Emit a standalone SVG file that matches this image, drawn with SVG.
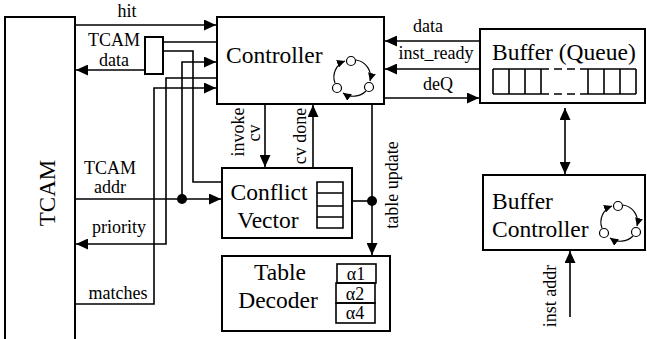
<svg xmlns="http://www.w3.org/2000/svg" width="647" height="339" viewBox="0 0 647 339" font-family="Liberation Serif, Times New Roman, serif">
<style>
text{font-family:'Liberation Serif','Times New Roman',serif;fill:#000}
.box{fill:#fff;stroke:#000;stroke-width:2}
.cell{fill:none;stroke:#000;stroke-width:1.6}
.w{fill:none;stroke:#000;stroke-width:1.6}
.a{marker-end:url(#ah)}
.big{font-size:23.5px}
.sm{font-size:18px}
.mid{text-anchor:middle}
.st{fill:#fff;stroke:#000;stroke-width:1.2}
.arc{fill:none;stroke:#000;stroke-width:1.2;marker-end:url(#sah)}
</style>
<defs>
<marker id="ah" markerUnits="userSpaceOnUse" markerWidth="13" markerHeight="11" refX="12" refY="5.5" orient="auto"><path d="M0,0 L12,5.5 L0,11 z" fill="#000"/></marker>
<marker id="sah" markerUnits="userSpaceOnUse" markerWidth="9" markerHeight="8" refX="8" refY="4" orient="auto"><path d="M0,0 L8,4 L0,8 z" fill="#000"/></marker>
<g id="fsm">
<path class="arc" d="M335,83 A17,17 0 0 1 345,61"/>
<path class="arc" d="M356,60 A17,17 0 0 1 370,81"/>
<path class="arc" d="M366,91 A18,18 0 0 1 343,93"/>
<circle class="st" cx="351" cy="61" r="4.5"/>
<circle class="st" cx="337" cy="88" r="4.5"/>
<circle class="st" cx="369" cy="87" r="4.5"/>
</g>
</defs>
<rect width="647" height="339" fill="#fff"/>

<g id="tcam">
<path class="box" d="M5,345 V17 H75 V345"/>
<text class="big mid" style="font-size:23px" transform="translate(55,193) rotate(-90)">TCAM</text>
</g>

<g id="mux">
<rect class="box" x="145" y="37" width="18" height="37"/>
</g>

<g id="controller">
<rect class="box" x="217" y="17" width="167" height="87"/>
<text class="big" x="226" y="63">Controller</text>
<use href="#fsm"/>
</g>

<g id="buffer-queue">
<rect class="box" x="480" y="29" width="165" height="74"/>
<text class="big" x="492" y="60">Buffer (Queue)</text>
<path class="cell" d="M493,69 H541 M493,94 H541 M493,69 V94 M509,69 V94 M525,69 V94 M541,69 V94"/>
<path class="cell" d="M588,69 H636 M588,94 H636 M588,69 V94 M604,69 V94 M620,69 V94 M636,69 V94"/>
<path class="cell" stroke-dasharray="8,5" d="M541,69 H588 M541,94 H588"/>
</g>

<g id="buffer-controller">
<rect class="box" x="483" y="175" width="162" height="75"/>
<text class="big" x="492" y="209">Buffer</text>
<text class="big" x="492" y="237">Controller</text>
<use href="#fsm" transform="translate(267,145)"/>
</g>

<g id="conflict-vector">
<rect class="box" x="222" y="168" width="130" height="70"/>
<text class="big mid" x="269" y="200">Conflict</text>
<text class="big mid" x="268" y="228">Vector</text>
<path class="cell" d="M317,182 H343 V228 H317 Z M317,193 H343 M317,206 H343 M317,217 H343"/>
</g>

<g id="table-decoder">
<rect class="box" x="222" y="256" width="168" height="75"/>
<text class="big mid" x="280" y="280">Table</text>
<text class="big mid" x="278" y="308">Decoder</text>
<rect class="cell" x="337" y="264" width="39" height="19"/>
<rect class="cell" x="336" y="283" width="39" height="20"/>
<rect class="cell" x="336" y="303" width="39" height="20"/>
<text class="sm mid" x="356" y="280">α1</text>
<text class="sm mid" x="355" y="300">α2</text>
<text class="sm mid" x="355" y="319">α4</text>
</g>

<g id="connectors">
<path class="w a" d="M75,25 H216"/>
<path class="w a" d="M145,70 H76"/>
<path class="w" d="M163,42 H217"/>
<path class="w" d="M163,51 H193 V182 H222"/>
<path class="w a" d="M182,199 V62 H216"/>
<path class="w a" d="M217,78 H166 V244 H76"/>
<path class="w a" d="M75,304 H154 V88 H216"/>
<path class="w a" d="M75,199 H221"/>
<circle cx="182" cy="199" r="5"/>
<path class="w a" d="M265,104 V167"/>
<path class="w a" d="M313,168 V105"/>
<path class="w a" d="M372,104 V255"/>
<path class="w" d="M352,201 H372"/>
<circle cx="372" cy="201" r="5"/>
<path class="w a" d="M480,41 H385"/>
<path class="w a" d="M480,69 H385"/>
<path class="w a" d="M384,98 H479"/>
<path class="w a" d="M565,140 V108"/>
<path class="w a" d="M565,140 V174"/>
<path class="w a" d="M570,317 V251"/>
</g>

<g id="labels">
<text class="sm mid" x="127" y="17">hit</text>
<text class="sm mid" x="114" y="46">TCAM</text>
<text class="sm mid" x="114" y="65.5">data</text>
<text class="sm mid" x="110" y="174">TCAM</text>
<text class="sm mid" x="110" y="193">addr</text>
<text class="sm mid" x="119" y="233">priority</text>
<text class="sm mid" x="118" y="299">matches</text>
<text class="sm mid" x="428" y="32">data</text>
<text class="sm mid" x="436" y="59">inst_ready</text>
<text class="sm mid" x="438" y="90">deQ</text>
<text class="sm mid" transform="translate(244,132) rotate(-90)">invoke</text>
<text class="sm mid" transform="translate(260,133) rotate(-90)">cv</text>
<text class="sm mid" transform="translate(306,136) rotate(-90)">cv done</text>
<text class="sm mid" transform="translate(398,185) rotate(-90)">table update</text>
<text class="sm mid" transform="translate(556,296) rotate(-90)">inst addr</text>
</g>
</svg>
